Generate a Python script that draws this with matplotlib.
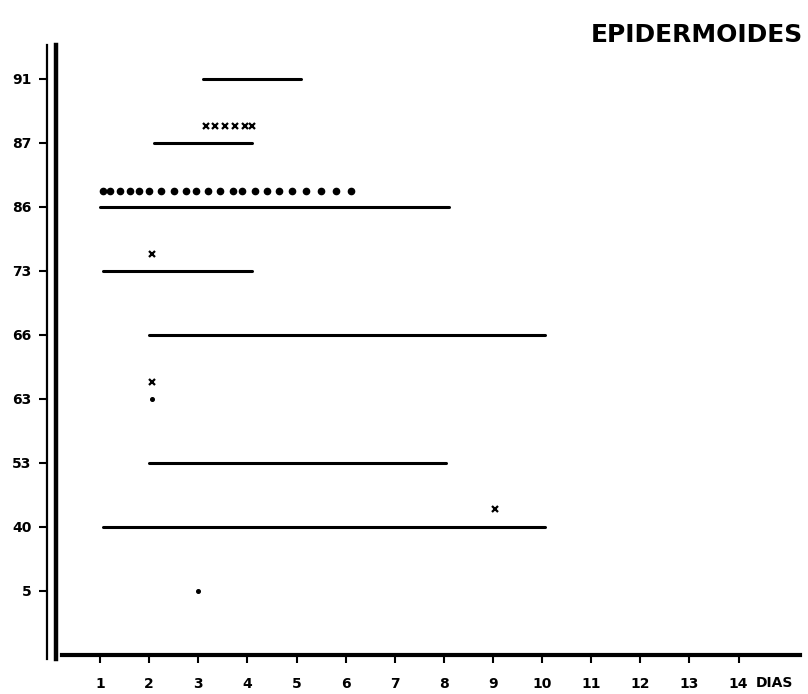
import numpy as np
import matplotlib
matplotlib.use("Agg")
import matplotlib.pyplot as plt

# --- DATA ---
cases = ['5', '40', '53', '63', '66', '73', '86', '87', '91']
days = list(range(1, 15))

# horizontal bars: case -> (start day, end day)
bar_case = ['40', '53', '66', '73', '86', '87', '91']
bar_start = [1.05, 2.0, 2.0, 1.05, 1.0, 2.1, 3.1]
bar_end = [10.05, 8.05, 10.05, 4.1, 8.1, 4.1, 5.1]

# "x" marks
cross_case = ['87', '87', '87', '87', '87', '87', '73', '63', '40']
cross_day = [3.15, 3.35, 3.55, 3.75, 3.95, 4.1, 2.05, 2.05, 9.05]

# dot marks (a run over case 86, plus two single dots)
run_case = ['86'] * 22
run_day = [1.05, 1.2, 1.4, 1.6, 1.8, 2.0, 2.25, 2.5, 2.75, 2.95, 3.2,
           3.45, 3.7, 3.9, 4.15, 4.4, 4.65, 4.9, 5.2, 5.5, 5.8, 6.1]
single_case = ['63', '5']
single_day = [2.05, 3.0]

# --- PLOT ---
fig = plt.figure(figsize=(8.08, 6.94), dpi=100)
ax = fig.add_axes([47 / 808, 1 - 656 / 694, (800 - 47) / 808, (656 - 45) / 694])
ax.set_xlim(-0.08, 15.25)
ax.set_ylim(-0.02, 9.53)

pos = {c: i + 1 for i, c in enumerate(cases)}

for c, s, e in zip(bar_case, bar_start, bar_end):
    ax.plot([s, e], [pos[c], pos[c]], color='black', lw=2.2, solid_capstyle='round')

ax.plot(cross_day, [pos[c] + 0.27 for c in cross_case], linestyle='none',
        marker='x', color='black', ms=4, mew=1.6)

ax.plot(run_day, [pos[c] + 0.25 for c in run_case], linestyle='none',
        marker='o', color='black', ms=4.5)
ax.plot(single_day, [pos[c] for c in single_case], linestyle='none',
        marker='o', color='black', ms=2.6)

# axes frame: double vertical line + thick bottom line
for s in ax.spines.values():
    s.set_visible(False)
ax.plot([-0.075, -0.075], [-0.06, 9.53], color='black', lw=1.6, clip_on=False)
ax.plot([0.1, 0.1], [-0.06, 9.53], color='black', lw=3.2, clip_on=False)
ax.plot([0.22, 15.25], [0, 0], color='black', lw=3, clip_on=False)

ax.set_yticks(range(1, len(cases) + 1), cases)
ax.set_xticks(days, [str(d) for d in days])
ax.tick_params(axis='y', direction='out', length=6, width=1.5, pad=5, labelsize=10)
ax.tick_params(axis='x', direction='out', length=5, width=1.5, pad=10, labelsize=10)
for lab in ax.get_xticklabels() + ax.get_yticklabels():
    lab.set_fontweight('bold')

ax.text(14.72, -0.44, 'DIAS', ha='center', va='center',
        fontsize=10, fontweight='bold', clip_on=False)

fig.text(0.994, 0.95, 'EPIDERMOIDES', ha='right', va='center',
         fontsize=18, fontweight='bold')

fig.savefig('out.png', dpi=100)
